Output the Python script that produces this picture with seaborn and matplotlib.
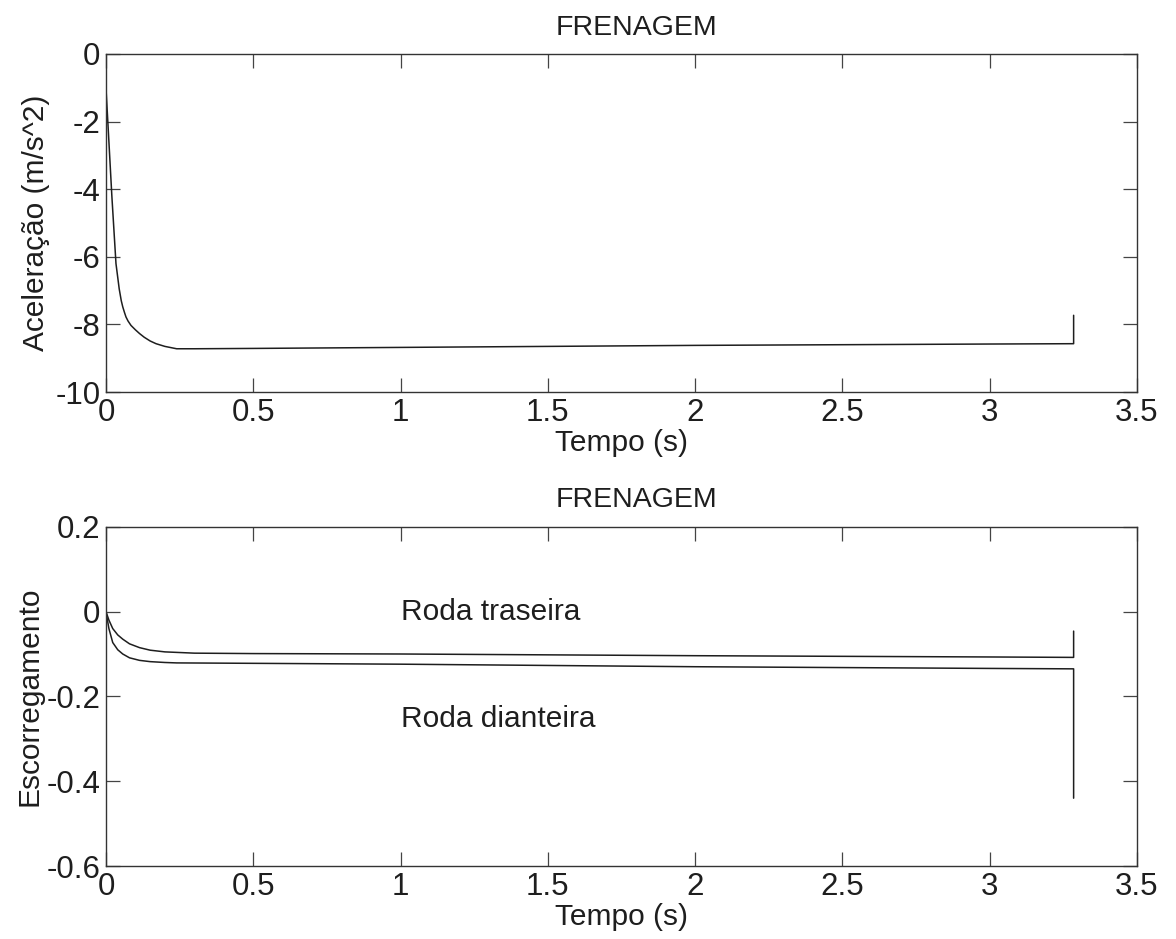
import matplotlib
matplotlib.use("Agg")
import matplotlib.pyplot as plt
import seaborn as sns
import numpy as np

# ---- data ----
t_acc = [0.0, 0.006, 0.02, 0.034, 0.045, 0.052, 0.057, 0.063, 0.068, 0.075, 0.085, 0.1,
         0.114, 0.13, 0.15, 0.17, 0.2, 0.24, 0.3, 0.5, 1.0, 1.5, 2.0, 2.5, 3.0, 3.285, 3.285]
acc = [-1.0, -1.95, -4.2, -6.2, -6.95, -7.3, -7.48, -7.65, -7.78, -7.9, -8.03, -8.16,
       -8.27, -8.38, -8.49, -8.57, -8.65, -8.72, -8.72, -8.71, -8.68, -8.65, -8.62,
       -8.60, -8.58, -8.57, -7.73]

t_tras = [0.0, 0.01, 0.023, 0.04, 0.057, 0.08, 0.114, 0.15, 0.2, 0.3, 0.5, 1.0, 2.0,
          3.0, 3.285, 3.285]
s_tras = [0.0, -0.02, -0.04, -0.055, -0.065, -0.076, -0.085, -0.091, -0.095, -0.098,
          -0.099, -0.100, -0.104, -0.107, -0.108, -0.046]

t_diant = [0.0, 0.01, 0.023, 0.04, 0.057, 0.08, 0.114, 0.15, 0.2, 0.24, 0.5, 1.0, 2.0,
           3.0, 3.285, 3.285]
s_diant = [0.0, -0.04, -0.073, -0.09, -0.100, -0.109, -0.115, -0.118, -0.120, -0.121,
           -0.122, -0.124, -0.130, -0.134, -0.135, -0.44]

title = "FRENAGEM"
xlabel = "Tempo (s)"
ylabel_top = "Aceleração (m/s^2)"
ylabel_bot = "Escorregamento"
label_tras = "Roda traseira"
label_diant = "Roda dianteira"
xticks = [0, 0.5, 1, 1.5, 2, 2.5, 3, 3.5]
xtick_labels = ["0", "0.5", "1", "1.5", "2", "2.5", "3", "3.5"]
yticks_top = [0, -2, -4, -6, -8, -10]
yticks_bot = [0.2, 0, -0.2, -0.4, -0.6]
ytick_labels_bot = ["0.2", "0", "-0.2", "-0.4", "-0.6"]

# ---- style ----
sns.set_theme(style="white")
plt.rcParams["font.family"] = ["Liberation Sans", "DejaVu Sans"]
FS = 21.5
FS_TICK = 22.5
FS_TITLE = 20.5
INK = "#1e1e1e"

fig = plt.figure(figsize=(11.76, 9.39), dpi=100)
ax1 = fig.add_axes([0.0901, 0.5825, 0.8767, 0.3600])
ax2 = fig.add_axes([0.0901, 0.0777, 0.8767, 0.3613])

sns.lineplot(x=t_acc, y=acc, sort=False, estimator=None, ax=ax1,
             color=INK, linewidth=1.1)
sns.lineplot(x=t_tras, y=s_tras, sort=False, estimator=None, ax=ax2,
             color=INK, linewidth=1.1)
sns.lineplot(x=t_diant, y=s_diant, sort=False, estimator=None, ax=ax2,
             color=INK, linewidth=1.1)

ax2.text(1.0, 0.0, label_tras, fontsize=FS, color=INK, va="center", ha="left")
ax2.text(1.0, -0.254, label_diant, fontsize=FS, color=INK, va="center", ha="left")

for ax in (ax1, ax2):
    ax.set_xlim(0, 3.5)
    ax.set_xticks(xticks)
    ax.set_xticklabels(xtick_labels, fontsize=FS_TICK, color=INK)
    ax.tick_params(direction="in", length=10, width=0.9, color="#444444",
                   top=True, right=True, bottom=True, left=True, pad=4,
                   labelsize=FS_TICK, labelcolor=INK)
    for sp in ax.spines.values():
        sp.set_color("#333333")
        sp.set_linewidth(1.0)
    ax.set_title(title, fontsize=FS_TITLE, color=INK, pad=14, x=0.515)
    ax.set_xlabel(xlabel, fontsize=FS, color=INK, labelpad=1)

ax1.set_ylim(-10, 0)
ax1.set_yticks(yticks_top)
ax1.set_yticklabels([str(v) for v in yticks_top], fontsize=FS_TICK, color=INK)
ax1.set_ylabel(ylabel_top, fontsize=FS, color=INK, labelpad=4)

ax2.set_ylim(-0.6, 0.2)
ax2.set_yticks(yticks_bot)
ax2.set_yticklabels(ytick_labels_bot, fontsize=FS_TICK, color=INK)
ax2.set_ylabel(ylabel_bot, fontsize=FS, color=INK, labelpad=2)

fig.savefig("out.png", dpi=100, facecolor="white")
